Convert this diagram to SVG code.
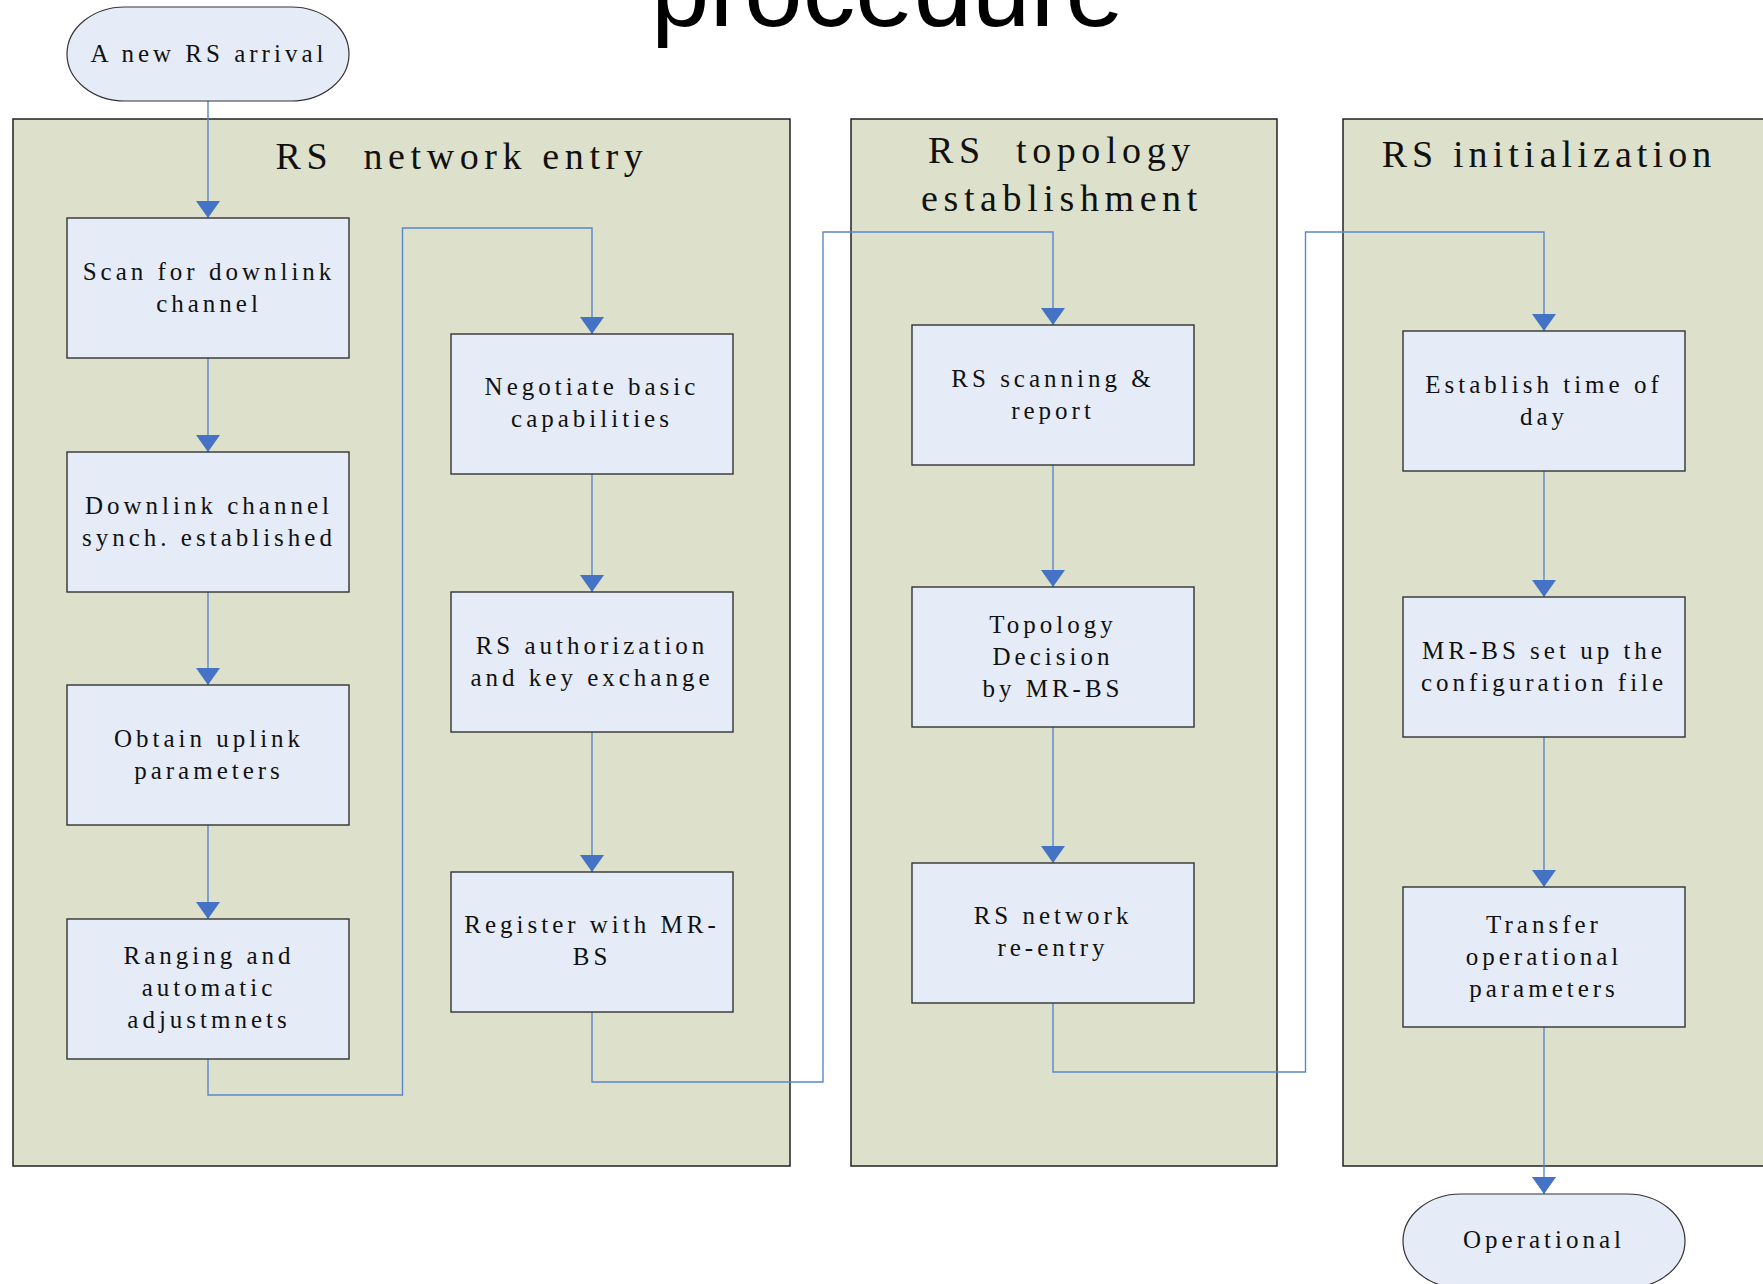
<svg xmlns="http://www.w3.org/2000/svg" width="1763" height="1284" viewBox="0 0 1763 1284">
  <style>
    .panel { fill: #DDE1CB; stroke: #222; stroke-width: 1.5; }
    .box { fill: #E6ECF7; stroke: #333; stroke-width: 1.4; }
    .term { fill: #E6ECF7; stroke: #333; stroke-width: 1.2; }
    .lbl { font-family: "Liberation Serif", "Times New Roman", serif; font-size: 25px; letter-spacing: 4px; fill: #111; text-anchor: middle; }
    .ptitle { font-family: "Liberation Serif", "Times New Roman", serif; font-size: 38px; letter-spacing: 5.6px; fill: #111; text-anchor: middle; white-space: pre; }
    .conn { fill: none; stroke: #5A87CC; stroke-width: 1.4; marker-end: url(#arrow); }
    .big { font-family: "Liberation Sans", Arial, sans-serif; font-size: 105px; fill: #000; }
  </style>
  <defs>
    <marker id="arrow" markerUnits="userSpaceOnUse" markerWidth="17" markerHeight="24" viewBox="0 0 17 24" refX="17" refY="12" orient="auto">
      <path d="M0,0 L17,12 L0,24 Z" fill="#4472C4"/>
    </marker>
  </defs>

  <rect width="1763" height="1284" fill="#FFFFFF"/>

  <text class="big" x="651" y="26">procedure</text>

  <g id="panel-network-entry">
    <rect class="panel" x="13" y="119" width="777" height="1047"/>
    <text class="ptitle" x="462" y="169" xml:space="preserve">RS  network entry</text>
  </g>
  <g id="panel-topology">
    <rect class="panel" x="851" y="119" width="426" height="1047"/>
    <text class="ptitle" x="1062" y="163" xml:space="preserve">RS  topology</text>
    <text class="ptitle" x="1062" y="211">establishment</text>
  </g>
  <g id="panel-initialization">
    <rect class="panel" x="1343" y="119" width="440" height="1047"/>
    <text class="ptitle" x="1549" y="167" style="letter-spacing:5.1px">RS initialization</text>
  </g>

  <g id="connectors">
    <path class="conn" d="M208,101 V218"/>
    <path class="conn" d="M208,358 V452"/>
    <path class="conn" d="M208,592 V685"/>
    <path class="conn" d="M208,825 V919"/>
    <path class="conn" d="M208,1059 V1095 H402.5 V228 H592 V334"/>
    <path class="conn" d="M592,474 V592"/>
    <path class="conn" d="M592,732 V872"/>
    <path class="conn" d="M592,1012 V1082 H823 V232 H1053 V325"/>
    <path class="conn" d="M1053,465 V587"/>
    <path class="conn" d="M1053,727 V863"/>
    <path class="conn" d="M1053,1003 V1072 H1305.5 V232 H1544 V331"/>
    <path class="conn" d="M1544,471 V597"/>
    <path class="conn" d="M1544,737 V887"/>
    <path class="conn" d="M1544,1027 V1194"/>
  </g>

  <g id="start">
    <rect class="term" x="67" y="7" width="282" height="94" rx="58" ry="47"/>
    <text class="lbl" x="209" y="62">A new RS arrival</text>
  </g>

  <g id="scan">
    <rect class="box" x="67" y="218" width="282" height="140"/>
    <text class="lbl" x="209" y="280">Scan for downlink</text>
    <text class="lbl" x="209" y="312">channel</text>
  </g>
  <g id="downlink-sync">
    <rect class="box" x="67" y="452" width="282" height="140"/>
    <text class="lbl" x="209" y="514">Downlink channel</text>
    <text class="lbl" x="209" y="546">synch. established</text>
  </g>
  <g id="obtain-uplink">
    <rect class="box" x="67" y="685" width="282" height="140"/>
    <text class="lbl" x="209" y="747">Obtain uplink</text>
    <text class="lbl" x="209" y="779">parameters</text>
  </g>
  <g id="ranging">
    <rect class="box" x="67" y="919" width="282" height="140"/>
    <text class="lbl" x="209" y="964">Ranging and</text>
    <text class="lbl" x="209" y="996">automatic</text>
    <text class="lbl" x="209" y="1028">adjustmnets</text>
  </g>

  <g id="negotiate">
    <rect class="box" x="451" y="334" width="282" height="140"/>
    <text class="lbl" x="592" y="395">Negotiate basic</text>
    <text class="lbl" x="592" y="427">capabilities</text>
  </g>
  <g id="authorization">
    <rect class="box" x="451" y="592" width="282" height="140"/>
    <text class="lbl" x="592" y="654">RS authorization</text>
    <text class="lbl" x="592" y="686">and key exchange</text>
  </g>
  <g id="register">
    <rect class="box" x="451" y="872" width="282" height="140"/>
    <text class="lbl" x="592" y="933">Register with MR-</text>
    <text class="lbl" x="592" y="965">BS</text>
  </g>

  <g id="rs-scanning">
    <rect class="box" x="912" y="325" width="282" height="140"/>
    <text class="lbl" x="1053" y="387">RS scanning &amp;</text>
    <text class="lbl" x="1053" y="419">report</text>
  </g>
  <g id="topology-decision">
    <rect class="box" x="912" y="587" width="282" height="140"/>
    <text class="lbl" x="1053" y="633">Topology</text>
    <text class="lbl" x="1053" y="665">Decision</text>
    <text class="lbl" x="1053" y="697">by MR-BS</text>
  </g>
  <g id="reentry">
    <rect class="box" x="912" y="863" width="282" height="140"/>
    <text class="lbl" x="1053" y="924">RS network</text>
    <text class="lbl" x="1053" y="956">re-entry</text>
  </g>

  <g id="establish-time">
    <rect class="box" x="1403" y="331" width="282" height="140"/>
    <text class="lbl" x="1544" y="393">Establish time of</text>
    <text class="lbl" x="1544" y="425">day</text>
  </g>
  <g id="config-file">
    <rect class="box" x="1403" y="597" width="282" height="140"/>
    <text class="lbl" x="1544" y="659">MR-BS set up the</text>
    <text class="lbl" x="1544" y="691">configuration file</text>
  </g>
  <g id="transfer-params">
    <rect class="box" x="1403" y="887" width="282" height="140"/>
    <text class="lbl" x="1544" y="933">Transfer</text>
    <text class="lbl" x="1544" y="965">operational</text>
    <text class="lbl" x="1544" y="997">parameters</text>
  </g>

  <g id="operational">
    <rect class="term" x="1403" y="1194" width="282" height="94" rx="58" ry="47"/>
    <text class="lbl" x="1544" y="1248">Operational</text>
  </g>
</svg>
